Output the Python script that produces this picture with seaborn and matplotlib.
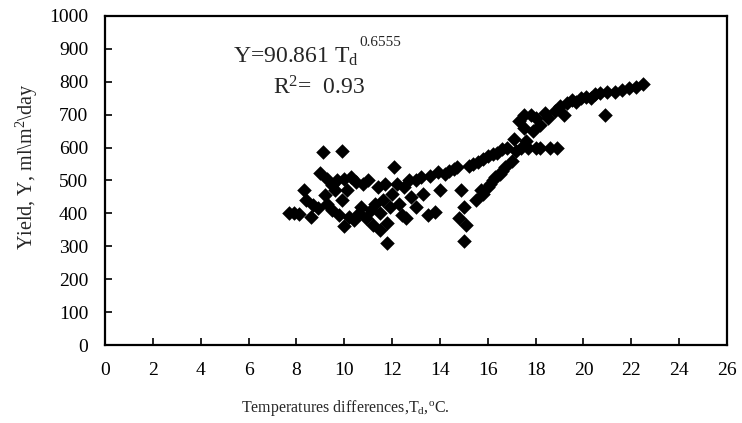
import numpy as np
import pandas as pd
import matplotlib
matplotlib.use("Agg")
import matplotlib.pyplot as plt
import seaborn as sns

# values (Td in deg C, yield in ml/m2/day)
td_low = [7.7, 7.9, 8.1, 8.3, 8.4, 8.6, 8.7, 8.9, 9.0, 9.1, 9.2, 9.3, 9.3, 9.5, 9.5,
          9.6, 9.7, 9.8, 9.9, 9.9]
y_low = [400, 402, 398, 470, 440, 390, 425, 415, 522, 588, 455, 505, 430, 485, 410,
         470, 500, 395, 590, 440]

td_mid = [10.0, 10.0, 10.1, 10.2, 10.3, 10.4, 10.5, 10.6, 10.7, 10.8, 10.9, 11.0, 11.1,
          11.2, 11.3, 11.4, 11.5, 11.5, 11.6, 11.7, 11.8, 11.8, 11.9, 12.0, 12.1, 12.2,
          12.3, 12.4, 12.5, 12.6, 12.7, 12.8, 13.0, 13.0, 13.2, 13.3, 13.5, 13.6, 13.8,
          13.9, 14.0, 14.2, 14.4]
y_mid = [362, 505, 470, 390, 510, 380, 495, 400, 420, 490, 385, 500, 410,
         365, 430, 480, 350, 400, 440, 490, 310, 370, 420, 460, 540, 490,
         430, 395, 480, 385, 500, 450, 500, 420, 510, 460, 395, 515, 405,
         525, 470, 520, 530]

td_high = [14.6, 14.7, 14.8, 14.9, 15.0, 15.0, 15.1, 15.2, 15.4, 15.5, 15.6, 15.7, 15.8,
           15.8, 16.0, 16.0, 16.1, 16.2, 16.2, 16.3, 16.4, 16.5, 16.6, 16.6, 16.7, 16.8,
           17.0, 17.1, 17.2, 17.3, 17.4, 17.5, 17.5, 17.6, 17.7, 17.8, 17.9, 18.0, 18.0,
           18.2, 18.2, 18.4, 18.5, 18.6, 18.8, 18.9, 19.0, 19.2, 19.3, 19.5, 19.7, 19.9,
           20.1, 20.3, 20.5, 20.7, 20.9, 21.0, 21.3, 21.6, 21.9, 22.2, 22.5]
y_high = [535, 540, 385, 470, 315, 420, 365, 545, 550, 440, 555, 470, 460,
          565, 480, 575, 490, 500, 580, 510, 585, 520, 530, 595, 540, 600,
          560, 625, 590, 680, 600, 660, 700, 620, 600, 700, 650, 600, 690,
          670, 600, 705, 690, 600, 710, 600, 725, 700, 735, 745, 740, 750,
          755, 750, 762, 765, 700, 770, 770, 775, 780, 785, 792]

x_ticks = list(range(0, 27, 2))
y_ticks = list(range(0, 1001, 100))

df = pd.DataFrame({
    "Td": td_low + td_mid + td_high,
    "Yield": y_low + y_mid + y_high,
})

sns.set_style("white")
plt.rcParams["font.family"] = ["Liberation Serif", "DejaVu Serif"]
plt.rcParams["mathtext.fontset"] = "custom"
plt.rcParams["mathtext.rm"] = "Liberation Serif"
plt.rcParams["mathtext.it"] = "Liberation Serif:italic"

fig = plt.figure(figsize=(7.42, 4.23), dpi=100)
ax = fig.add_axes([105 / 742, 78 / 423, 622 / 742, 329 / 423])

sns.scatterplot(data=df, x="Td", y="Yield", marker="D", s=55, color="black",
                linewidth=0, ax=ax)

ax.set_xlim(0, 26)
ax.set_ylim(0, 1000)
ax.set_xticks(x_ticks)
ax.set_yticks(y_ticks)
ax.tick_params(which="major", direction="in", length=5, width=1.2, labelsize=14,
               pad=12, bottom=True, left=True, top=False, right=False,
               color="black", labelcolor="black")
for sp in ax.spines.values():
    sp.set_color("black")
    sp.set_linewidth(1.6)

ax.set_xlabel(r"Temperatures differences,T$_\mathrm{d}$,$^\mathrm{o}$C.", fontsize=11.5)
ax.set_ylabel(r"Yield, Y, ml\m$^\mathrm{2}$\day", fontsize=14.5)
ax.xaxis.set_label_coords(0.386, -0.16)
ax.yaxis.set_label_coords(-0.105, 0.54)

# fitted power law
eq = ax.text(0.205, 0.857, r"Y=90.861 T$_\mathrm{d}$", transform=ax.transAxes,
             fontsize=17, ha="left", va="baseline")
ax.annotate("0.6555", xy=(1.0, 1.0), xycoords=eq, xytext=(1, 0),
            textcoords="offset points", fontsize=11, ha="left", va="baseline")
ax.text(0.27, 0.76, r"R$^\mathrm{2}$=  0.93", transform=ax.transAxes,
        fontsize=17, ha="left", va="baseline")

fig.savefig("out.png", dpi=100)
